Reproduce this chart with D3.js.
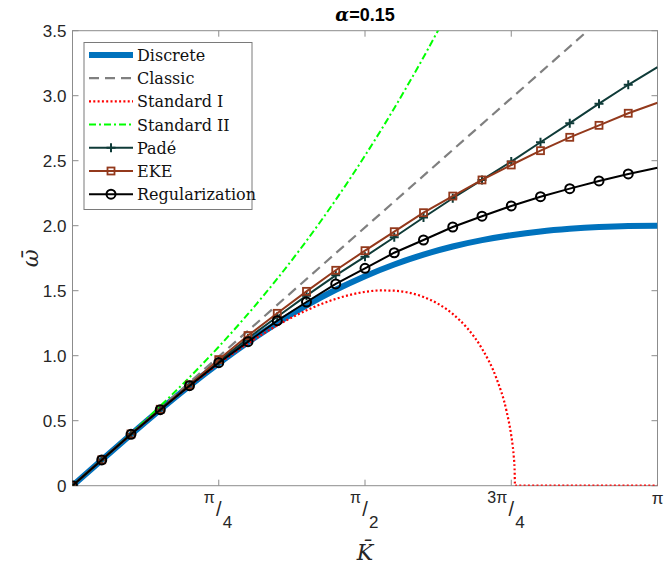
<!DOCTYPE html>
<html><head><meta charset="utf-8">
<script src="https://cdn.jsdelivr.net/npm/d3@7"></script>
<style>body{margin:0;background:#fff}</style>
</head><body>
<svg id="c" width="664" height="576"></svg>
<script>
// K values expressed as fractions of pi
const kGrid = [0,0.05,0.1,0.15,0.2,0.25,0.3,0.35,0.4,0.45,0.5,0.55,0.6,0.65,0.7,0.75,0.8,0.85,0.9,0.95,1];
const discrete = [0,0.198,0.394,0.585,0.768,0.941,1.103,1.252,1.387,1.507,1.612,1.702,1.778,1.840,1.889,1.927,1.956,1.976,1.990,1.998,2.0];
const classicK = [0,1];
const classicW = [0,3.974];
const stdIK = [0,0.05,0.1,0.15,0.2,0.25,0.3,0.35,0.4,0.45,0.5,0.525,0.55,0.575,0.6,0.625,0.65,0.675,0.7,0.725,0.7417,0.75,0.7512,0.7544,0.7557,0.7564,1];
const stdIW = [0,0.198,0.394,0.584,0.766,0.938,1.094,1.233,1.349,1.437,1.491,1.502,1.500,1.485,1.452,1.399,1.321,1.211,1.054,0.822,0.579,0.387,0.350,0.219,0.131,0,0];
const stdIIK = [0,0.05,0.1,0.15,0.2,0.25,0.3,0.35,0.4,0.45,0.5,0.55,0.6,0.65];
const stdIIW = [0,0.199,0.402,0.613,0.834,1.069,1.321,1.592,1.884,2.199,2.539,2.904,3.296,3.715];
const pade = [0,0.199,0.398,0.587,0.773,0.958,1.134,1.300,1.462,1.618,1.762,1.911,2.063,2.211,2.352,2.493,2.642,2.789,2.939,3.084,3.220];
const eke = [0,0.199,0.398,0.588,0.776,0.970,1.155,1.326,1.495,1.657,1.808,1.954,2.100,2.228,2.352,2.467,2.577,2.680,2.772,2.865,2.946];
const reg = [0,0.198,0.395,0.585,0.769,0.946,1.108,1.269,1.413,1.552,1.672,1.792,1.890,1.990,2.073,2.152,2.223,2.285,2.344,2.398,2.446];
const yTicks = [0,0.5,1.0,1.5,2.0,2.5,3.0,3.5];
const yTickLabels = ["0","0.5","1.0","1.5","2.0","2.5","3.0","3.5"];
const xTicks = [0,0.25,0.5,0.75,1];
const xTickLabels = [null,["π","4"],["π","2"],["3π","4"],["π",null]];
const legendNames = ["Discrete","Classic","Standard I","Standard II","Padé","EKE","Regularization"];

const svg = d3.select("#c");
const L=72.5, R=657.5, T=30.7, B=485.7;
const x = d3.scaleLinear().domain([0,1]).range([L,R]);
const y = d3.scaleLinear().domain([0,3.5]).range([B,T]);

svg.append("defs").append("clipPath").attr("id","clip")
  .append("rect").attr("x",L).attr("y",T).attr("width",R-L).attr("height",B-T);

const axisCol="#8c8c8c", txtCol="#262626";
const g = svg.append("g");

g.append("rect").attr("x",L).attr("y",T).attr("width",R-L).attr("height",B-T)
 .attr("fill","none").attr("stroke",axisCol).attr("stroke-width",1);

yTicks.forEach((t,i)=>{
  const yy=y(t);
  g.append("line").attr("x1",L).attr("x2",L+6).attr("y1",yy).attr("y2",yy).attr("stroke",axisCol);
  g.append("line").attr("x1",R-6).attr("x2",R).attr("y1",yy).attr("y2",yy).attr("stroke",axisCol);
  g.append("text").attr("x",L-6).attr("y",yy+6).attr("text-anchor","end")
   .attr("font-family","Liberation Sans, Arial, sans-serif").attr("font-size",17).attr("fill",txtCol)
   .text(yTickLabels[i]);
});
xTicks.forEach((t,i)=>{
  const xx=x(t);
  g.append("line").attr("x1",xx).attr("x2",xx).attr("y1",B).attr("y2",B-6).attr("stroke",axisCol);
  g.append("line").attr("x1",xx).attr("x2",xx).attr("y1",T).attr("y2",T+6).attr("stroke",axisCol);
  const lab=xTickLabels[i];
  if(!lab) return;
  const ff="Liberation Sans, Arial, sans-serif";
  if(lab[1]===null){
    g.append("text").attr("x",xx).attr("y",504).attr("text-anchor","middle")
     .attr("font-family",ff).attr("font-size",17).attr("fill",txtCol).text(lab[0]);
  } else {
    g.append("text").attr("x",xx-4).attr("y",503).attr("text-anchor","end")
     .attr("font-family",ff).attr("font-size",16).attr("fill",txtCol).text(lab[0]);
    g.append("text").attr("x",xx).attr("y",516).attr("text-anchor","middle")
     .attr("font-family",ff).attr("font-size",20).attr("fill",txtCol).text("/");
    g.append("text").attr("x",xx+4).attr("y",528).attr("text-anchor","start")
     .attr("font-family",ff).attr("font-size",17).attr("fill",txtCol).text(lab[1]);
  }
});

svg.append("text").attr("x",(L+R)/2).attr("y",560).attr("text-anchor","middle")
  .attr("font-family","DejaVu Serif, serif").attr("font-style","italic").attr("font-size",22)
  .attr("fill",txtCol).text("K\u0304");
svg.append("text").attr("transform",`translate(38,${(T+B)/2}) rotate(-90)`).attr("text-anchor","middle")
  .attr("font-family","DejaVu Serif, serif").attr("font-style","italic").attr("font-size",22)
  .attr("fill",txtCol).text("ω\u0304");

const title = svg.append("text").attr("x",(L+R)/2).attr("y",21).attr("text-anchor","middle")
  .attr("font-family","Liberation Sans, Arial, sans-serif").attr("font-weight","bold").attr("font-size",18).attr("fill","#000");
title.append("tspan").attr("font-family","DejaVu Serif, serif").attr("font-style","italic").text("α");
title.append("tspan").text("=0.15");

const plot = svg.append("g").attr("clip-path","url(#clip)");
const lineS = (ks, ws, curve) => d3.line().x((d,i)=>x(ks[i])).y(d=>y(d)).curve(curve||d3.curveLinear)(ws);

const styles = [
  {col:"#0072BD", w:6, dash:null},
  {col:"#808080", w:2.2, dash:"10,6"},
  {col:"#FF0000", w:2.2, dash:"2,2.3"},
  {col:"#00FF00", w:2, dash:"7,3,2,3"},
  {col:"#0F3B38", w:2, dash:null},
  {col:"#93391C", w:2, dash:null},
  {col:"#000000", w:2, dash:null}
];
function styleLine(p, s){ p.attr("fill","none").attr("stroke",s.col).attr("stroke-width",s.w); if(s.dash) p.attr("stroke-dasharray",s.dash); return p; }

styleLine(plot.append("path").attr("d", lineS(kGrid, discrete, d3.curveMonotoneX)), styles[0]);
styleLine(plot.append("path").attr("d", lineS(classicK, classicW)), styles[1]);
styleLine(plot.append("path").attr("d", lineS(stdIK, stdIW, d3.curveMonotoneX)), styles[2]);
styleLine(plot.append("path").attr("d", lineS(stdIIK, stdIIW, d3.curveMonotoneX)), styles[3]);

const plusPath = (cx,cy,r)=>`M${cx-r},${cy}H${cx+r}M${cx},${cy-r}V${cy+r}`;
function drawMarked(vals, s, type){
  styleLine(plot.append("path").attr("d", lineS(kGrid, vals)), s);
  vals.slice(0,20).forEach((v,i)=>{
    const cx=x(kGrid[i]), cy=y(v);
    if(type==="plus") plot.append("path").attr("d",plusPath(cx,cy,4.5)).attr("stroke",s.col).attr("stroke-width",2).attr("fill","none");
    if(type==="square") plot.append("rect").attr("x",cx-3.5).attr("y",cy-3.5).attr("width",7).attr("height",7).attr("stroke",s.col).attr("stroke-width",1.8).attr("fill","none");
    if(type==="circle") plot.append("circle").attr("cx",cx).attr("cy",cy).attr("r",4.5).attr("stroke",s.col).attr("stroke-width",2).attr("fill","none");
  });
}
drawMarked(pade, styles[4], "plus");
drawMarked(eke, styles[5], "square");
drawMarked(reg, styles[6], "circle");

const lg = svg.append("g");
lg.append("rect").attr("x",84).attr("y",42.5).attr("width",168).attr("height",167)
  .attr("fill","#fff").attr("stroke","#7a7a7a").attr("stroke-width",1);
const types=[null,null,null,null,"plus","square","circle"];
legendNames.forEach((n,i)=>{
  const yy=55+i*23.2, s=styles[i];
  styleLine(lg.append("line").attr("x1",89).attr("x2",133).attr("y1",yy).attr("y2",yy), s);
  const cx=111;
  if(types[i]==="plus") lg.append("path").attr("d",plusPath(cx,yy,4.5)).attr("stroke",s.col).attr("stroke-width",2);
  if(types[i]==="square") lg.append("rect").attr("x",cx-3.5).attr("y",yy-3.5).attr("width",7).attr("height",7).attr("stroke",s.col).attr("stroke-width",1.8).attr("fill","none");
  if(types[i]==="circle") lg.append("circle").attr("cx",cx).attr("cy",yy).attr("r",4.5).attr("stroke",s.col).attr("stroke-width",2).attr("fill","none");
  lg.append("text").attr("x",137).attr("y",yy+6).attr("font-family","DejaVu Serif, serif").attr("font-size",16)
    .attr("fill","#111").text(n);
});
</script>
</body></html>
